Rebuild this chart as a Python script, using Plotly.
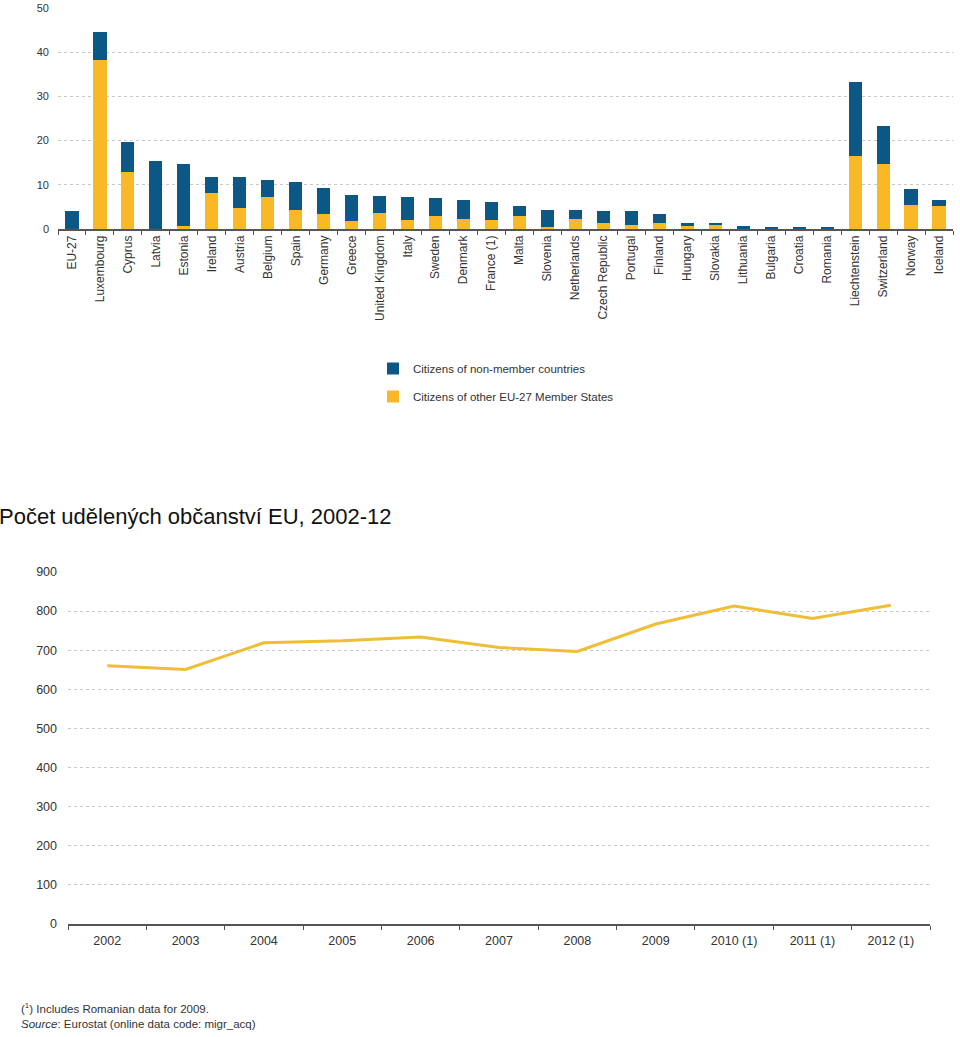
import plotly.graph_objects as go

countries = ["EU-27", "Luxembourg", "Cyprus", "Latvia", "Estonia", "Ireland", "Austria", "Belgium",
             "Spain", "Germany", "Greece", "United Kingdom", "Italy", "Sweden", "Denmark", "France (1)",
             "Malta", "Slovenia", "Netherlands", "Czech Republic", "Portugal", "Finland", "Hungary",
             "Slovakia", "Lithuania", "Bulgaria", "Croatia", "Romania", "Liechtenstein", "Switzerland",
             "Norway", "Iceland"]
totals = [4.0, 44.5, 19.7, 15.4, 14.8, 11.8, 11.8, 11.2, 10.7, 9.3, 7.8, 7.5, 7.3, 7.0, 6.6, 6.1,
          5.3, 4.4, 4.2, 4.0, 4.0, 3.5, 1.35, 1.2, 0.75, 0.55, 0.55, 0.3, 33.3, 23.3, 9.0, 6.5]
eu_citizens = [0.0, 38.3, 12.9, 0.0, 0.6, 8.2, 4.8, 7.2, 4.4, 3.5, 1.9, 3.7, 2.0, 2.9, 2.3, 2.0,
               2.9, 0.4, 2.3, 1.4, 1.0, 1.4, 0.75, 1.0, 0.1, 0.05, 0.05, 0.02, 16.6, 14.8, 5.4, 5.1]
non_member = [round(t - e, 2) for t, e in zip(totals, eu_citizens)]

years = ["2002", "2003", "2004", "2005", "2006", "2007", "2008", "2009", "2010 (1)", "2011 (1)", "2012 (1)"]
grants = [660, 651, 719, 724, 734, 707, 697, 767, 813, 781, 815]

BLUE = "#0d5784"
YELLOW = "#f9b825"
LINE = "#efbd36"
FONT = "Liberation Sans, Arial, sans-serif"
W, H = 960, 1037

def px_y(y):
    return 1 - y / H

fig = go.Figure()
fig.add_trace(go.Bar(x=countries, y=eu_citizens, name="Citizens of other EU-27 Member States",
                     marker_color=YELLOW, marker_line_width=0, xaxis="x", yaxis="y",
                     legendgroup="b", legendrank=2))
fig.add_trace(go.Bar(x=countries, y=non_member, name="Citizens of non-member countries",
                     marker_color=BLUE, marker_line_width=0, xaxis="x", yaxis="y",
                     legendgroup="a", legendrank=1))
fig.add_trace(go.Scatter(x=years, y=grants, mode="lines", line=dict(color=LINE, width=3),
                         showlegend=False, xaxis="x2", yaxis="y2"))

tick11 = dict(family=FONT, size=11, color="#333333")
tick12 = dict(family=FONT, size=12, color="#333333")
tick13 = dict(family=FONT, size=12.5, color="#333333")

fig.update_layout(
    width=W, height=H,
    margin=dict(l=0, r=0, t=0, b=0, autoexpand=False),
    paper_bgcolor="white", plot_bgcolor="white",
    barmode="stack", bargap=0.53,
    font=dict(family=FONT, color="#333333"),
    xaxis=dict(domain=[58 / W, 953 / W], anchor="y", type="category", tickangle=-90,
               range=[-0.5, len(countries) - 0.5],
               showline=True, linecolor="#555555", linewidth=1.5, ticks="outside",
               tickson="boundaries", ticklen=4, tickcolor="#555555", showgrid=False,
               tickfont=tick12, automargin=False),
    yaxis=dict(domain=[px_y(229), px_y(8)], anchor="x", range=[0, 50], dtick=10,
               showgrid=True, gridcolor="#c8c8c8", griddash="dot", zeroline=False,
               showline=False, tickfont=tick11, ticklabelstandoff=8, automargin=False),
    xaxis2=dict(domain=[68 / W, 930 / W], anchor="y2", type="category",
                range=[-0.5, len(years) - 0.5],
                showline=True, linecolor="#555555", linewidth=1.5, ticks="outside",
                tickson="boundaries", ticklen=4, tickcolor="#555555", showgrid=False,
                tickfont=tick13, ticklabelstandoff=4, automargin=False),
    yaxis2=dict(domain=[px_y(924), px_y(572)], anchor="x2", range=[0, 900], dtick=100,
                showgrid=True, gridcolor="#c8c8c8", griddash="dot", zeroline=False,
                showline=False, tickfont=tick13, ticklabelstandoff=10, automargin=False),
    legend=dict(x=373 / W, y=px_y(354), xanchor="left", yanchor="top",
                traceorder="grouped", tracegroupgap=9,
                font=dict(family=FONT, size=11.5, color="#333333"),
                itemwidth=30, bgcolor="rgba(0,0,0,0)"),
    showlegend=True,
)

fig.add_annotation(text="Počet udělených občanství EU, 2002-12", xref="paper", yref="paper",
                   x=-0.003, y=px_y(516), xanchor="left", yanchor="middle", showarrow=False,
                   font=dict(family=FONT, size=22, color="#111111"))
fig.add_annotation(text="(<sup>1</sup>) Includes Romanian data for 2009.", xref="paper", yref="paper",
                   x=19 / W, y=px_y(1008), xanchor="left", yanchor="middle", showarrow=False,
                   font=dict(family=FONT, size=11.5, color="#333333"))
fig.add_annotation(text="<i>Source</i>: Eurostat (online data code: migr_acq)", xref="paper", yref="paper",
                   x=19 / W, y=px_y(1024), xanchor="left", yanchor="middle", showarrow=False,
                   font=dict(family=FONT, size=11.5, color="#333333"))

fig.write_html("out.html")
